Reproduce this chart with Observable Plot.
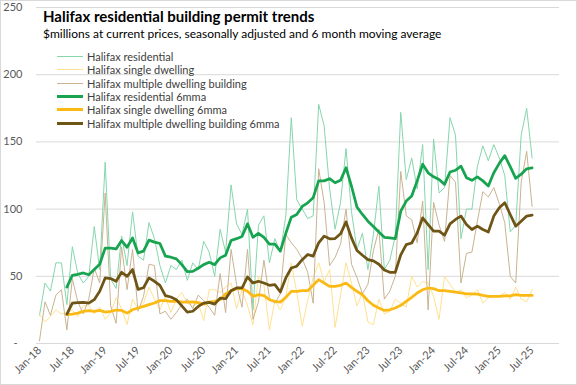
<!DOCTYPE html>
<html><head><meta charset="utf-8">
<script src="https://cdn.jsdelivr.net/npm/d3@7"></script>
<script src="https://cdn.jsdelivr.net/npm/@observablehq/plot@0.6"></script>
<style>
body{margin:0;background:#fff;}
#wrap{position:relative;width:577px;height:385px;overflow:hidden;font-family:Lato,"Noto Sans",sans-serif;background:#fff;}
#border{position:absolute;left:0;top:0;width:575px;height:383px;border:1px solid #d9d9d9;pointer-events:none;}
#chart{position:absolute;left:0;top:0;}
#title{position:absolute;left:43px;top:9px;font-size:15px;line-height:15px;font-weight:bold;color:#000;white-space:nowrap;}
#subtitle{position:absolute;left:43px;top:27px;font-size:12px;line-height:13px;color:#000;white-space:nowrap;}
#legend{position:absolute;left:57px;top:50px;font-size:11px;color:#404040;}
.row{display:flex;align-items:center;height:13.3px;white-space:nowrap;}
.sw{width:26px;margin-right:4px;}
</style></head>
<body><div id="wrap">
<div id="chart"></div>
<div id="title">Halifax residential building permit trends</div>
<div id="subtitle">$millions at current prices, seasonally adjusted and 6 month moving average</div>
<div id="legend"></div>
<div id="border"></div>
</div>
<script>
// Months Jan-18 (index 0) .. Jul-25 (index 90)
const xTickLabels = ["Jan-18","Jul-18","Jan-19","Jul-19","Jan-20","Jul-20","Jan-21","Jul-21","Jan-22","Jul-22","Jan-23","Jul-23","Jan-24","Jul-24","Jan-25","Jul-25"];
const yTicks = [0,50,100,150,200,250];

const residential = [21,45,39,60,60,29,72,52,45,50, 87,55,135,48,41,80,58,98,65,62, 90,78,58,45,58,55,62,47,60,55, 76,68,50,85,68,118,89,81,100,25, 88,95,60,78,68,95,168,107,100,93, 95,178,162,115,85,105,145,98,70,82, 55,81,117,55,62,80,172,122,138,115, 148,55,152,112,116,168,155,78,100,100, 132,147,136,148,138,125,83,88,155,175, 138];
const single = [22,16,20,25,22,23,25,20,28,28, 22,27,18,23,34,26,14,33,26,30, 42,33,25,35,23,33,38,30,28,30, 17,40,40,38,42,45,26,40,28,14, 50,44,10,32,25,35,60,38,13,32, 49,60,46,55,12,36,60,45,28,38, 16,14,33,22,24,33,30,27,50,42, 46,45,35,18,50,44,38,40,34,36, 40,30,34,36,35,38,33,42,33,31, 40];
const multiple = [2,31,21,36,40,10,48,31,22,33, 56,45,112,28,15,72,40,70,24,35, 59,58,22,24,18,23,29,33,26,36, 32,27,21,52,23,70,44,27,70,18, 31,62,34,30,37,81,75,70,63,53, 30,130,105,58,64,74,100,59,49,37, 44,69,85,33,39,50,128,95,92,75, 106,25,105,88,76,125,120,45,67,68, 91,113,109,116,104,90,50,45,120,143, 102];
// 6-month moving averages, first value at Jun-18 (index 5)
const residential6mma = [42,50.7,51.5,52.5,51.2,55,59,71,71,70.4, 76.6,71.6,78.6,67.4,68.7,76.9,75.4,74.4,65,64.2, 63,58.7,53.5,53.7,56,58.7,60.4,58.7,63.7,65.7, 76.6,78,79.6,89,79,82,79,74,74,68.7, 82,94,96,102,104.7,108.5,121,121,122.6,119.6, 121.4,130.8,117,101.5,96,91,87,83,79,78.6, 78,98.5,106,109.7,121,133.4,127,124,122,118.4, 127.6,128.9,132,123.4,121.4,124,121,117.2,127,134, 139.8,131.6,122.9,126,130,130.6];
const single6mma = [21.4,21.9,22.6,23.9,24.4,23.9,24.6,23.4,23.9,24.9, 24.6,22.6,25.1,26.4,27.6,28.9,30.1,31.9,31.9,31.3, 31.3,31,30.8,31,30.4,29.3,30.8,31.3,32.6,36.8, 39.3,40.8,40.8,38.8,35.1,36.3,35.6,32.6,31.3,30.8, 34.3,38.8,38.8,39.3,39.3,43.3,47.5,45,42.5,42.5, 43.3,45,41.8,38.8,36.3,31.8,28.5,26.4,24.6,25.1, 26.4,28.4,31.3,34.3,37.6,40,41.3,40.8,39.3,39.3, 38.8,38.3,37.6,37,37,36.8,35.8,35,35,35, 35.5,35.5,36.3,35.8,35.8,35.8];
const multiple6mma = [21.9,30,30.4,30.6,30,32.6,38.8,48.8,48.3,46.3, 53,50,55,40.3,41.5,48.8,46.3,43.3,35.6,34.6, 32.6,28,23.4,24,27.6,30,30.6,29.3,33.8,33.3, 39.3,41.3,41.3,49.5,45,46.3,45,43.3,43.8,38.3, 48.8,56.2,57.5,62.4,66.2,65,74.9,79.9,77.9,78.1, 81.6,90.5,78.6,69.2,65.7,62.4,61.5,59,54.7,53, 53,66,73.6,74.8,82.3,93.5,88.5,83.6,83.6,80.6, 89,92.3,94.8,88.5,84.8,87.3,84.8,83,94.8,101, 104.7,96,87.3,91,94.8,95.5];

const series = [
  {name:"Halifax residential", data:residential, off:0, color:"#86d6ac", w:1},
  {name:"Halifax single dwelling", data:single, off:0, color:"#ffe191", w:1},
  {name:"Halifax multiple dwelling building", data:multiple, off:0, color:"#c9b391", w:1},
  {name:"Halifax residential 6mma", data:residential6mma, off:5, color:"#17a450", w:2.75},
  {name:"Halifax single dwelling 6mma", data:single6mma, off:5, color:"#fbb914", w:2.75},
  {name:"Halifax multiple dwelling building 6mma", data:multiple6mma, off:5, color:"#6e5415", w:2.75}
];
const toRows = s => s.data.map((v,i)=>({m:i+s.off, v}));

const plot = Plot.plot({
  width:577, height:385,
  marginLeft:36, marginRight:18, marginTop:7, marginBottom:42,
  x:{domain:[0,95], insetLeft:3},
  y:{domain:[0,250]},
  style:{fontFamily:"Lato, 'Noto Sans', sans-serif", fontSize:"11px", color:"#595959", background:"transparent"},
  marks:[
    Plot.ruleY(yTicks,{stroke:"#d9d9d9", strokeWidth:1}),
    Plot.axisY({ticks:yTicks.filter(d=>d>0), tickSize:0, tickPadding:14, label:null}),
    Plot.axisY({ticks:[0], tickSize:0, tickPadding:19, tickFormat:()=>"-", label:null}),
    Plot.axisX({ticks:xTickLabels.map((_,i)=>i*6), tickFormat:d=>xTickLabels[d/6], tickRotate:-45, tickSize:0, tickPadding:5, label:null}),
    ...series.map(s=>Plot.line(toRows(s),{x:"m", y:"v", stroke:s.color, strokeWidth:s.w, strokeLinejoin:"round"}))
  ]
});
document.getElementById("chart").appendChild(plot);

const leg = document.getElementById("legend");
series.forEach(s=>{
  const r = document.createElement("div"); r.className="row";
  const sw = document.createElement("div"); sw.className="sw";
  sw.style.height = (s.w>2?3:1)+"px"; sw.style.background = s.color;
  const t = document.createElement("span"); t.textContent = s.name;
  r.appendChild(sw); r.appendChild(t); leg.appendChild(r);
});
</script>
</body></html>
